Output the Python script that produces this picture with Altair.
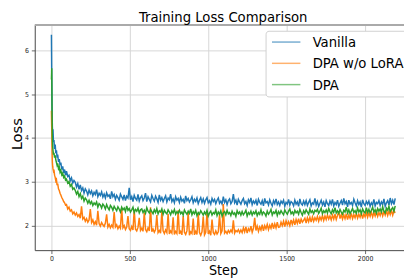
import altair as alt
import pandas as pd

series_names = ["Vanilla", "DPA w/o LoRA", "DPA"]
series_colors = ["#1f77b4", "#ff7f0e", "#2ca02c"]

# sampled training steps
steps_early = [0, 2, 4, 6, 8, 10, 13, 16, 20, 24, 28, 32, 36, 40, 45, 50, 55, 60, 66, 72, 78, 84, 90]
steps_late = list(range(96, 2193, 8))
steps = steps_early + steps_late

vanilla = [
    6.35, 5.40, 4.70, 4.25, 4.10, 4.20, 3.90, 3.95, 3.75, 3.85, 3.65, 3.72, 3.55, 3.62, 3.45, 3.52, 3.38, 3.44, 3.28, 3.35, 3.20, 3.28, 3.15,
    3.24, 3.12, 3.15, 3.02, 3.09, 2.97, 3.03, 2.99, 2.88, 2.96,
    2.83, 2.93, 2.80, 2.86, 2.74, 2.84, 2.79, 2.70, 2.81, 2.73,
    2.79, 2.68, 2.76, 2.71, 2.82, 2.66, 2.74, 2.69, 2.77, 2.65,
    2.72, 2.63, 2.75, 2.67, 2.70, 2.61, 2.78, 2.66, 2.71, 2.60,
    2.69, 2.64, 2.58, 2.72, 2.66, 2.60, 2.70, 2.57, 2.67, 2.63,
    2.86, 2.59, 2.66, 2.55, 2.69, 2.62, 2.58, 2.71, 2.56, 2.64,
    2.68, 2.57, 2.63, 2.74, 2.55, 2.66, 2.60, 2.54, 2.69, 2.62,
    2.56, 2.67, 2.61, 2.53, 2.70, 2.58, 2.64, 2.55, 2.62, 2.68,
    2.54, 2.63, 2.59, 2.72, 2.55, 2.61, 2.52, 2.66, 2.58, 2.62,
    2.53, 2.65, 2.56, 2.60, 2.51, 2.68, 2.57, 2.62, 2.54, 2.59,
    2.66, 2.52, 2.60, 2.55, 2.63, 2.50, 2.58, 2.64, 2.53, 2.61,
    2.51, 2.59, 2.64, 2.52, 2.57, 2.49, 2.62, 2.55, 2.60, 2.50,
    2.58, 2.63, 2.51, 2.56, 2.49, 2.66, 2.53, 2.59, 2.48, 2.57,
    2.61, 2.50, 2.55, 2.72, 2.52, 2.58, 2.47, 2.60, 2.54, 2.49,
    2.57, 2.62, 2.50, 2.55, 2.46, 2.59, 2.53, 2.63, 2.48, 2.56,
    2.51, 2.58, 2.46, 2.60, 2.53, 2.49, 2.57, 2.45, 2.62, 2.52,
    2.55, 2.47, 2.59, 2.51, 2.45, 2.57, 2.50, 2.61, 2.48, 2.54,
    2.46, 2.56, 2.51, 2.58, 2.44, 2.53, 2.49, 2.60, 2.47, 2.55,
    2.52, 2.45, 2.58, 2.49, 2.54, 2.44, 2.61, 2.50, 2.47, 2.56,
    2.48, 2.57, 2.46, 2.53, 2.59, 2.45, 2.52, 2.49, 2.62, 2.47,
    2.55, 2.44, 2.51, 2.58, 2.47, 2.54, 2.43, 2.57, 2.50, 2.46,
    2.56, 2.49, 2.60, 2.45, 2.53, 2.48, 2.58, 2.44, 2.51, 2.57,
    2.47, 2.62, 2.50, 2.55, 2.43, 2.58, 2.49, 2.53, 2.46, 2.60,
    2.52, 2.45, 2.57, 2.48, 2.54, 2.42, 2.59, 2.50, 2.46, 2.55,
    2.49, 2.56, 2.44, 2.52, 2.47, 2.60, 2.45, 2.53, 2.50, 2.57,
    2.46, 2.54, 2.48, 2.61, 2.44, 2.52, 2.57, 2.47, 2.63, 2.50,
    2.58, 2.48, 2.62,
]

dpa_wo_lora = [
    4.62, 4.20, 3.70, 3.45, 3.35, 3.30, 3.25, 3.28, 3.15, 3.10, 3.02, 3.05, 2.92, 2.96, 2.84, 2.80, 2.74, 2.70, 2.64, 2.60, 2.55, 2.52, 2.47,
    2.48, 2.38, 2.42, 2.33, 2.36, 2.27, 2.31, 2.24, 2.29, 2.21,
    2.25, 2.17, 2.44, 2.15, 2.19, 2.10, 2.16, 2.08, 2.13, 2.38,
    2.07, 2.13, 2.03, 2.09, 2.01, 2.34, 2.05, 1.99, 2.07, 2.02,
    1.98, 2.06, 2.26, 1.97, 2.03, 1.95, 2.01, 1.96, 2.31, 1.97,
    2.02, 1.93, 1.99, 1.94, 2.40, 1.95, 2.00, 1.91, 1.97, 2.22,
    1.93, 1.89, 1.98, 1.90, 2.36, 1.92, 1.88, 1.96, 2.18, 1.89,
    1.94, 1.87, 2.30, 1.91, 1.86, 1.95, 1.88, 2.42, 1.86, 1.92,
    1.85, 1.91, 2.24, 1.84, 1.89, 1.83, 2.33, 1.88, 1.82, 1.90,
    1.84, 2.27, 1.81, 1.88, 1.83, 2.19, 1.80, 1.87, 1.82, 2.35,
    1.81, 1.87, 1.79, 2.22, 1.85, 1.80, 1.88, 2.30, 1.78, 1.86,
    1.82, 2.16, 1.79, 1.87, 1.80, 2.28, 1.84, 1.78, 1.86, 2.21,
    1.79, 1.85, 2.33, 1.81, 1.87, 1.78, 2.14, 1.84, 1.80, 1.88,
    1.81, 1.86, 2.26, 1.82, 1.88, 2.49, 1.83, 1.87, 1.82, 1.89,
    1.84, 1.90, 1.85, 2.12, 1.83, 1.89, 1.86, 1.91, 1.84, 1.90,
    1.84, 1.95, 1.86, 1.97, 1.83, 1.93, 1.88, 1.99, 1.85, 1.94,
    2.18, 1.89, 1.99, 1.87, 1.97, 1.90, 2.02, 1.88, 2.00, 1.93,
    2.03, 1.91, 2.01, 1.94, 2.06, 1.93, 2.04, 1.95, 2.08, 1.96,
    1.97, 2.08, 2.00, 2.10, 1.98, 2.11, 2.02, 2.09, 2.00, 2.13,
    2.03, 2.13, 2.02, 2.14, 2.05, 2.16, 2.04, 2.15, 2.08, 2.12,
    2.17, 2.06, 2.18, 2.09, 2.19, 2.08, 2.20, 2.10, 2.18, 2.12,
    2.21, 2.10, 2.20, 2.13, 2.23, 2.12, 2.22, 2.14, 2.24, 2.15,
    2.22, 2.13, 2.24, 2.15, 2.26, 2.14, 2.23, 2.33, 2.16, 2.25,
    2.15, 2.25, 2.16, 2.27, 2.14, 2.24, 2.17, 2.28, 2.16, 2.25,
    2.18, 2.28, 2.17, 2.26, 2.19, 2.29, 2.16, 2.27, 2.20, 2.30,
    2.19, 2.29, 2.21, 2.31, 2.20, 2.30, 2.22, 2.32, 2.21, 2.30,
    2.23, 2.33, 2.22, 2.32, 2.24, 2.34, 2.23, 2.33, 2.25, 2.35,
    2.24, 2.34, 2.29,
]

dpa = [
    5.33, 5.59, 4.50, 4.00, 3.80, 3.72, 3.62, 3.66, 3.55, 3.60, 3.50, 3.44, 3.38, 3.42, 3.30, 3.34, 3.22, 3.26, 3.16, 3.20, 3.10, 3.13, 3.04,
    3.06, 2.97, 3.01, 2.90, 2.94, 2.83, 2.86, 2.80, 2.72, 2.78,
    2.66, 2.73, 2.62, 2.67, 2.56, 2.63, 2.59, 2.51, 2.58, 2.50,
    2.55, 2.46, 2.52, 2.48, 2.54, 2.42, 2.50, 2.47, 2.40, 2.49,
    2.45, 2.38, 2.48, 2.41, 2.36, 2.46, 2.42, 2.35, 2.44, 2.39,
    2.34, 2.43, 2.38, 2.31, 2.42, 2.36, 2.40, 2.32, 2.45, 2.35,
    2.39, 2.31, 2.36, 2.42, 2.30, 2.37, 2.33, 2.40, 2.29, 2.36,
    2.38, 2.30, 2.35, 2.28, 2.41, 2.33, 2.29, 2.37, 2.32, 2.27,
    2.36, 2.30, 2.39, 2.27, 2.34, 2.31, 2.38, 2.26, 2.35, 2.30,
    2.27, 2.36, 2.31, 2.25, 2.34, 2.29, 2.37, 2.26, 2.32, 2.28,
    2.35, 2.27, 2.31, 2.24, 2.36, 2.30, 2.26, 2.33, 2.28, 2.38,
    2.25, 2.32, 2.27, 2.35, 2.23, 2.30, 2.26, 2.34, 2.29, 2.24,
    2.31, 2.26, 2.35, 2.22, 2.29, 2.33, 2.24, 2.30, 2.27, 2.36,
    2.23, 2.31, 2.26, 2.34, 2.22, 2.29, 2.32, 2.25, 2.35, 2.27,
    2.30, 2.23, 2.33, 2.26, 2.29, 2.21, 2.34, 2.27, 2.31, 2.24,
    2.32, 2.25, 2.29, 2.35, 2.22, 2.30, 2.26, 2.33, 2.24, 2.31,
    2.27, 2.34, 2.23, 2.30, 2.26, 2.36, 2.25, 2.31, 2.28, 2.22,
    2.33, 2.26, 2.30, 2.37, 2.24, 2.31, 2.28, 2.35, 2.23, 2.32,
    2.27, 2.34, 2.29, 2.25, 2.36, 2.30, 2.26, 2.33, 2.38, 2.27,
    2.31, 2.25, 2.35, 2.29, 2.33, 2.26, 2.37, 2.30, 2.24, 2.34,
    2.28, 2.36, 2.31, 2.26, 2.38, 2.30, 2.34, 2.27, 2.35, 2.32,
    2.37, 2.28, 2.33, 2.40, 2.27, 2.34, 2.30, 2.36, 2.29, 2.39,
    2.32, 2.27, 2.36, 2.30, 2.41, 2.29, 2.34, 2.28, 2.37, 2.31,
    2.26, 2.35, 2.31, 2.42, 2.29, 2.36, 2.27, 2.33, 2.39, 2.30,
    2.34, 2.28, 2.40, 2.31, 2.36, 2.27, 2.38, 2.32, 2.29, 2.41,
    2.30, 2.37, 2.29, 2.35, 2.42, 2.31, 2.36, 2.28, 2.39, 2.33,
    2.38, 2.31, 2.43, 2.33, 2.29, 2.40, 2.35, 2.44, 2.32, 2.37,
    2.41, 2.33, 2.45,
]

x_ticks = [0, 500, 1000, 1500, 2000]
y_ticks = [2, 3, 4, 5, 6]

rows = []
for k, (name, vals) in enumerate(zip(series_names, [vanilla, dpa_wo_lora, dpa])):
    for s, v in zip(steps, vals):
        rows.append({"Step": s, "Loss": v, "Model": name, "k": k})
df = pd.DataFrame(rows)

W = 376.7
H = 229.8
COND = "DejaVu Sans Condensed, DejaVu Sans"

lines = alt.Chart(df).mark_line(strokeWidth=1.5, opacity=1, clip=True).encode(
    x=alt.X("Step:Q",
            scale=alt.Scale(domain=[-106.25, 2248], nice=False, zero=False),
            axis=alt.Axis(values=x_ticks, format="d", title="Step", titleX=192, titleY=24.7,
                          titleAlign="center", titleBaseline="alphabetic",
                          titleFont=COND, titleFontSize=14.5, titleFontWeight="normal")),
    y=alt.Y("Loss:Q",
            scale=alt.Scale(domain=[1.441, 6.577], nice=False, zero=False),
            axis=alt.Axis(values=y_ticks, format="d", title="Loss", titleX=-13.6, titleY=111,
                          titleAlign="center", titleBaseline="alphabetic", labelPadding=3,
                          titleFont="DejaVu Sans", titleFontSize=15, titleFontWeight="normal")),
    color=alt.Color("Model:N",
                    scale=alt.Scale(domain=series_names, range=series_colors),
                    legend=alt.Legend(title=None, orient="none", legendX=235.5, legendY=6,
                                      symbolType="M-2.9,0L2.9,0", symbolSize=100,
                                      symbolStrokeWidth=1.5, symbolOpacity=0.6, symbolOffset=9.5,
                                      labelFont=COND, labelFontSize=15, labelOffset=19.5,
                                      rowPadding=5.7, padding=4,
                                      fillColor="white", strokeColor="#d0d0d0", cornerRadius=3)),
    detail="k:N",
    order="k:Q",
)

top_spine = alt.Chart(pd.DataFrame({"a": [0]})).mark_rule(color="#aaaaaa", strokeWidth=2).encode(
    x=alt.value(0), x2=alt.value(W), y=alt.value(0)
)

chart = alt.layer(lines, top_spine).properties(
    width=W, height=H,
    title=alt.TitleParams("Training Loss Comparison", font=COND, fontSize=15,
                          fontWeight="normal", color="#000", anchor="middle", dx=4, offset=-1),
    autosize=alt.AutoSizeParams(type="none"),
    padding={"left": 27.3, "top": 14.5, "right": 0, "bottom": 28},
).configure_view(stroke=None).configure_axis(
    domainColor="#444", domainWidth=1, tickColor="#444", tickSize=3.5, tickWidth=0.8,
    labelFont=COND, labelFontSize=7, labelColor="#222", labelPadding=1.5,
    gridColor="#d6d6d6", gridWidth=1, titleColor="#000"
)

chart.save("out.html", embed_options={"renderer": "svg", "actions": False})
